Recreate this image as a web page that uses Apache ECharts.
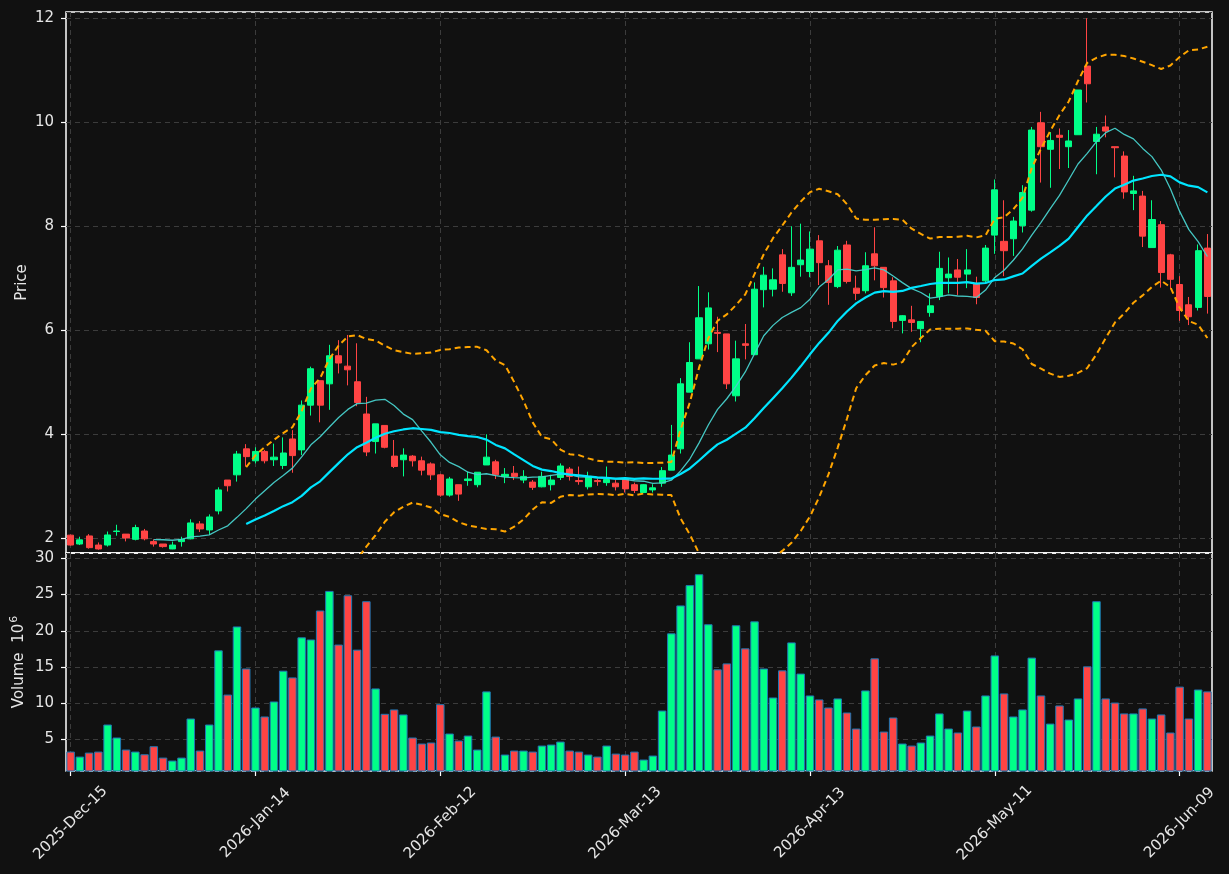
<!DOCTYPE html>
<html>
<head>
<meta charset="utf-8">
<title>Price with moving averages, Bollinger bands and volume</title>
<script src="https://cdn.jsdelivr.net/npm/echarts@6.0.0/dist/echarts.min.js"></script>
<style>
  html, body { margin: 0; padding: 0; background: #111111; }
  #chart { width: 1229px; height: 874px; }
</style>
</head>
<body>
<div id="chart"></div>
<script>
// x tick positions (bar index) and their labels
const tickIdx = [0, 20, 40, 60, 80, 100, 120];
const tickLabels = ['2025-Dec-15', '2026-Jan-14', '2026-Feb-12', '2026-Mar-13', '2026-Apr-13', '2026-May-11', '2026-Jun-09'];

// daily bars
const opens = [
  2.06, 1.89, 2.045, 1.87, 1.87, 2.13, 2.08, 1.98, 2.14, 1.936,
  1.89, 1.795, 1.936, 1.99, 2.276, 2.16, 2.526, 3.12, 3.22, 3.72,
  3.49, 3.67, 3.51, 3.40, 3.91, 3.70, 4.56, 5.03, 4.97, 5.51,
  5.31, 5.01, 4.39, 3.86, 4.17, 3.58, 3.51, 3.58, 3.49, 3.43,
  3.22, 2.83, 3.03, 3.11, 3.03, 3.41, 3.47, 3.19, 3.25, 3.12,
  3.08, 2.99, 3.03, 3.17, 3.33, 3.11, 2.99, 3.11, 3.07, 3.06,
  3.15, 3.03, 2.88, 2.93, 3.06, 3.31, 3.72, 4.81, 5.45, 5.74,
  5.96, 5.93, 4.74, 5.74, 5.53, 6.78, 6.79, 7.45, 6.72, 7.26,
  7.13, 7.72, 7.24, 6.84, 7.64, 6.81, 6.76, 7.47, 7.21, 6.95,
  6.19, 6.20, 6.03, 6.34, 6.65, 7.01, 7.16, 7.08, 6.90, 6.95,
  7.83, 7.71, 7.76, 8.01, 8.31, 9.99, 9.48, 9.75, 9.53, 9.76,
  11.08, 9.63, 9.91, 9.53, 9.35, 8.63, 8.58, 7.59, 8.03, 7.45,
  6.88, 6.49, 6.44, 7.58
];
const closes = [
  1.87, 1.97, 1.82, 1.795, 2.064, 2.14, 2.006, 2.205, 1.99, 1.89,
  1.84, 1.87, 1.98, 2.295, 2.18, 2.41, 2.93, 3.01, 3.62, 3.57,
  3.67, 3.49, 3.56, 3.64, 3.59, 4.56, 5.26, 4.56, 5.51, 5.37,
  5.24, 4.61, 3.66, 4.20, 3.75, 3.38, 3.60, 3.49, 3.31, 3.22,
  2.83, 3.14, 2.85, 3.14, 3.27, 3.56, 3.22, 3.23, 3.19, 3.19,
  2.98, 3.19, 3.12, 3.39, 3.19, 3.09, 3.19, 3.09, 3.13, 2.99,
  2.95, 2.92, 3.03, 2.97, 3.30, 3.60, 4.97, 5.38, 6.24, 6.43,
  5.94, 4.97, 5.45, 5.71, 6.79, 7.06, 6.97, 6.90, 7.21, 7.35,
  7.56, 7.30, 6.92, 7.54, 6.94, 6.71, 7.24, 7.24, 6.82, 6.17,
  6.28, 6.15, 6.17, 6.47, 7.19, 7.08, 7.02, 7.16, 6.63, 7.58,
  8.70, 7.53, 8.10, 8.65, 9.85, 9.53, 9.65, 9.71, 9.64, 10.62,
  10.74, 9.77, 9.83, 9.51, 8.66, 8.68, 7.81, 8.13, 7.11, 6.98,
  6.38, 6.26, 7.53, 6.65
];
const lows = [
  1.86, 1.87, 1.80, 1.78, 1.84, 2.05, 1.94, 1.96, 1.96, 1.84,
  1.82, 1.79, 1.84, 1.98, 2.12, 2.064, 2.46, 2.90, 3.09, 3.38,
  3.44, 3.44, 3.39, 3.33, 3.26, 3.60, 4.36, 4.23, 4.47, 5.17,
  4.94, 4.54, 3.58, 3.63, 3.73, 3.35, 3.19, 3.38, 3.21, 3.12,
  2.80, 2.80, 2.72, 3.01, 2.98, 3.41, 3.14, 3.06, 3.12, 3.06,
  2.93, 2.98, 2.92, 3.12, 3.11, 3.03, 2.94, 3.01, 3.01, 2.92,
  2.88, 2.87, 2.87, 2.88, 2.99, 3.31, 3.63, 4.81, 5.45, 5.63,
  5.58, 4.87, 4.63, 5.44, 5.53, 6.44, 6.65, 6.74, 6.66, 7.03,
  7.02, 6.87, 6.49, 6.81, 6.90, 6.58, 6.71, 6.96, 6.63, 6.04,
  5.94, 5.97, 5.77, 6.26, 6.58, 6.71, 6.68, 6.81, 6.50, 6.90,
  7.47, 7.04, 7.43, 7.88, 8.28, 8.84, 8.74, 9.10, 9.12, 9.76,
  10.38, 9.00, 9.71, 8.94, 8.53, 8.31, 7.60, 7.59, 6.82, 6.79,
  6.18, 6.10, 6.38, 6.32
];
const highs = [
  2.07, 2.03, 2.08, 1.92, 2.13, 2.26, 2.08, 2.26, 2.18, 1.98,
  1.89, 1.936, 2.03, 2.365, 2.33, 2.46, 2.98, 3.12, 3.68, 3.81,
  3.75, 3.70, 3.82, 3.94, 4.08, 4.65, 5.30, 5.03, 5.72, 5.81,
  5.91, 5.75, 4.72, 4.20, 4.17, 3.89, 3.73, 3.60, 3.57, 3.46,
  3.24, 3.18, 3.03, 3.28, 3.27, 4.00, 3.51, 3.35, 3.39, 3.31,
  3.12, 3.28, 3.22, 3.44, 3.37, 3.38, 3.28, 3.15, 3.38, 3.12,
  3.15, 3.07, 3.04, 3.04, 3.37, 4.18, 5.08, 5.77, 6.85, 6.73,
  6.26, 5.93, 5.80, 6.12, 6.92, 7.22, 7.19, 7.56, 8.00, 8.05,
  7.90, 7.83, 7.35, 7.62, 7.72, 7.05, 7.50, 7.98, 7.21, 7.02,
  6.29, 6.47, 6.17, 6.71, 7.51, 7.40, 7.37, 7.56, 7.03, 7.64,
  8.90, 8.50, 8.18, 8.79, 9.91, 10.20, 9.81, 9.88, 9.85, 10.62,
  12.00, 9.91, 10.13, 9.53, 9.44, 8.97, 8.68, 8.50, 8.10, 7.47,
  7.04, 6.64, 7.65, 7.85
];
// volume in millions
const volumes = [
  3.34, 2.65, 3.2, 3.34, 7.07, 5.28, 3.62, 3.34, 2.97, 4.08,
  2.51, 2.1, 2.51, 7.9, 3.48, 7.07, 17.3, 11.2, 20.6, 14.8,
  9.42, 8.18, 10.25, 14.5, 13.57, 19.1, 18.8, 22.8, 25.5, 18.1,
  24.9, 17.4, 24.08, 12.05, 8.55, 9.15, 8.46, 5.28, 4.45, 4.59,
  9.88, 5.83, 4.86, 5.55, 3.62, 11.64, 5.41, 2.93, 3.48, 3.48,
  3.34, 4.17, 4.31, 4.72, 3.48, 3.34, 2.93, 2.65, 4.17, 3.06,
  2.93, 3.34, 2.24, 2.79, 9.0, 19.65, 23.5, 26.3, 27.8, 20.9,
  14.68, 15.5, 20.76, 17.58, 21.3, 14.8, 10.8, 14.54, 18.4, 14.1,
  11.08, 10.53, 9.42, 10.67, 8.73, 6.52, 11.77, 16.2, 6.1, 8.04,
  4.45, 4.17, 4.59, 5.55, 8.6, 6.52, 5.97, 9.0, 6.8, 11.08,
  16.6, 11.36, 8.18, 9.15, 16.3, 11.08, 7.2, 9.7, 7.76, 10.67,
  15.1, 24.08, 10.67, 10.1, 8.6, 8.6, 9.29, 7.9, 8.46, 5.97,
  12.3, 7.9, 11.9, 11.64
];

const UP = '#00ff88';
const DOWN = '#ff4444';
const TEXT = '#e6e6e6';
const GRIDLINE = '#3c3c3c';
const FONT = 'DejaVu Sans';

// indicators from the closes
function rollingMean(arr, n) {
  return arr.map((v, i) => {
    if (i < n - 1) return null;
    let s = 0;
    for (let k = i - n + 1; k <= i; k++) s += arr[k];
    return s / n;
  });
}
function rollingStd(arr, n) {
  const m = rollingMean(arr, n);
  return arr.map((v, i) => {
    if (i < n - 1) return null;
    let s = 0;
    for (let k = i - n + 1; k <= i; k++) s += (arr[k] - m[i]) * (arr[k] - m[i]);
    return Math.sqrt(s / n);
  });
}
const sma10 = rollingMean(closes, 10);
const sma20 = rollingMean(closes, 20);
const sd20 = rollingStd(closes, 20);
const bbUpper = sma20.map((m, i) => (m === null ? null : m + 2 * sd20[i]));
const bbLower = sma20.map((m, i) => (m === null ? null : m - 2 * sd20[i]));

const cats = closes.map((c, i) => String(i));
const isTick = (i) => tickIdx.indexOf(i) >= 0;
const intLabel = (v) => (Math.abs(v - Math.round(v)) < 1e-6 ? String(Math.round(v)) : '');

const chart = echarts.init(document.getElementById('chart'), null, { renderer: 'canvas' });

const gridBase = {
  left: 66, width: 1146, show: true, borderColor: '#ffffff', borderWidth: 1.5,
  backgroundColor: 'transparent', containLabel: false, outerBoundsMode: 'none'
};
const splitX = {
  show: true, interval: (i) => isTick(i), alignWithLabel: true,
  lineStyle: { color: GRIDLINE, type: [5, 4], width: 1 }
};
const splitY = { show: true, lineStyle: { color: GRIDLINE, type: [5, 4], width: 1 } };

const option = {
  backgroundColor: '#111111',
  animation: false,
  textStyle: { fontFamily: FONT },
  grid: [
    Object.assign({ top: 12, height: 541 }, gridBase),
    Object.assign({ top: 553, height: 218 }, gridBase)
  ],
  xAxis: [
    {
      type: 'category', gridIndex: 0, data: cats, boundaryGap: true,
      axisLine: { show: false }, axisTick: { show: false }, axisLabel: { show: false },
      splitLine: splitX
    },
    {
      type: 'category', gridIndex: 1, data: cats, boundaryGap: true,
      axisLine: { show: false },
      axisTick: { show: true, interval: (i) => isTick(i), alignWithLabel: true, length: 5, lineStyle: { color: '#ffffff', width: 1.2 } },
      axisLabel: {
        show: true, interval: (i) => isTick(i), rotate: 45, align: 'center', verticalAlign: 'middle',
        margin: 52, color: TEXT, fontSize: 15, fontFamily: FONT,
        formatter: (v, i) => tickLabels[tickIdx.indexOf(Number(v))] || ''
      },
      splitLine: splitX
    }
  ],
  yAxis: [
    {
      type: 'value', gridIndex: 0, min: 1.717, max: 12.12, scale: true,
      name: 'Price', nameLocation: 'middle', nameGap: 36, nameMoveOverlap: false,
      nameTextStyle: { color: TEXT, fontSize: 15, fontFamily: FONT },
      axisLine: { show: false },
      axisTick: { show: true, length: 5, lineStyle: { color: '#ffffff', width: 1.2 } },
      axisLabel: { color: TEXT, fontSize: 15, fontFamily: FONT, margin: 12, showMinLabel: false, showMaxLabel: false, formatter: intLabel },
      splitLine: splitY
    },
    {
      type: 'value', gridIndex: 1, min: 0.66, max: 30.73, scale: true,
      name: '{a|Volume  10}{s|6}', nameLocation: 'middle', nameGap: 37, nameMoveOverlap: false,
      nameTextStyle: {
        color: TEXT, fontSize: 15, fontFamily: FONT,
        rich: {
          a: { color: TEXT, fontSize: 15, fontFamily: FONT },
          s: { color: TEXT, fontSize: 11, fontFamily: FONT, verticalAlign: 'top', padding: [0, 0, 9, 1] }
        }
      },
      axisLine: { show: false },
      axisTick: { show: true, length: 5, lineStyle: { color: '#ffffff', width: 1.2 } },
      axisLabel: { color: TEXT, fontSize: 15, fontFamily: FONT, margin: 12, showMinLabel: false, showMaxLabel: false, formatter: intLabel },
      splitLine: splitY
    }
  ],
  series: [
    {
      name: 'OHLC', type: 'candlestick', xAxisIndex: 0, yAxisIndex: 0,
      data: opens.map((o, i) => [o, closes[i], lows[i], highs[i]]),
      barWidth: '72%',
      itemStyle: { color: UP, color0: DOWN, borderColor: UP, borderColor0: DOWN, borderWidth: 1 }
    },
    {
      name: 'SMA10', type: 'line', xAxisIndex: 0, yAxisIndex: 0, data: sma10,
      showSymbol: false, symbol: 'none', smooth: false, z: 3,
      lineStyle: { color: '#48d1cc', width: 1.3, opacity: 0.95 }
    },
    {
      name: 'SMA20', type: 'line', xAxisIndex: 0, yAxisIndex: 0, data: sma20,
      showSymbol: false, symbol: 'none', smooth: false, z: 3,
      lineStyle: { color: '#00e5ff', width: 2.2 }
    },
    {
      name: 'BB upper', type: 'line', xAxisIndex: 0, yAxisIndex: 0, data: bbUpper,
      showSymbol: false, symbol: 'none', smooth: false, z: 3,
      lineStyle: { color: '#ffa500', width: 2, type: [6, 4] }
    },
    {
      name: 'BB lower', type: 'line', xAxisIndex: 0, yAxisIndex: 0, data: bbLower,
      showSymbol: false, symbol: 'none', smooth: false, z: 3,
      lineStyle: { color: '#ffa500', width: 2, type: [6, 4] }
    },
    {
      name: 'Volume', type: 'bar', xAxisIndex: 1, yAxisIndex: 1,
      data: volumes.map((v, i) => ({ value: v, itemStyle: { color: closes[i] >= opens[i] ? UP : DOWN } })),
      barCategoryGap: '8%',
      itemStyle: { borderColor: '#1f77b4', borderWidth: 1 }
    }
  ]
};

chart.setOption(option);
window.addEventListener('resize', chart.resize);
</script>
</body>
</html>
